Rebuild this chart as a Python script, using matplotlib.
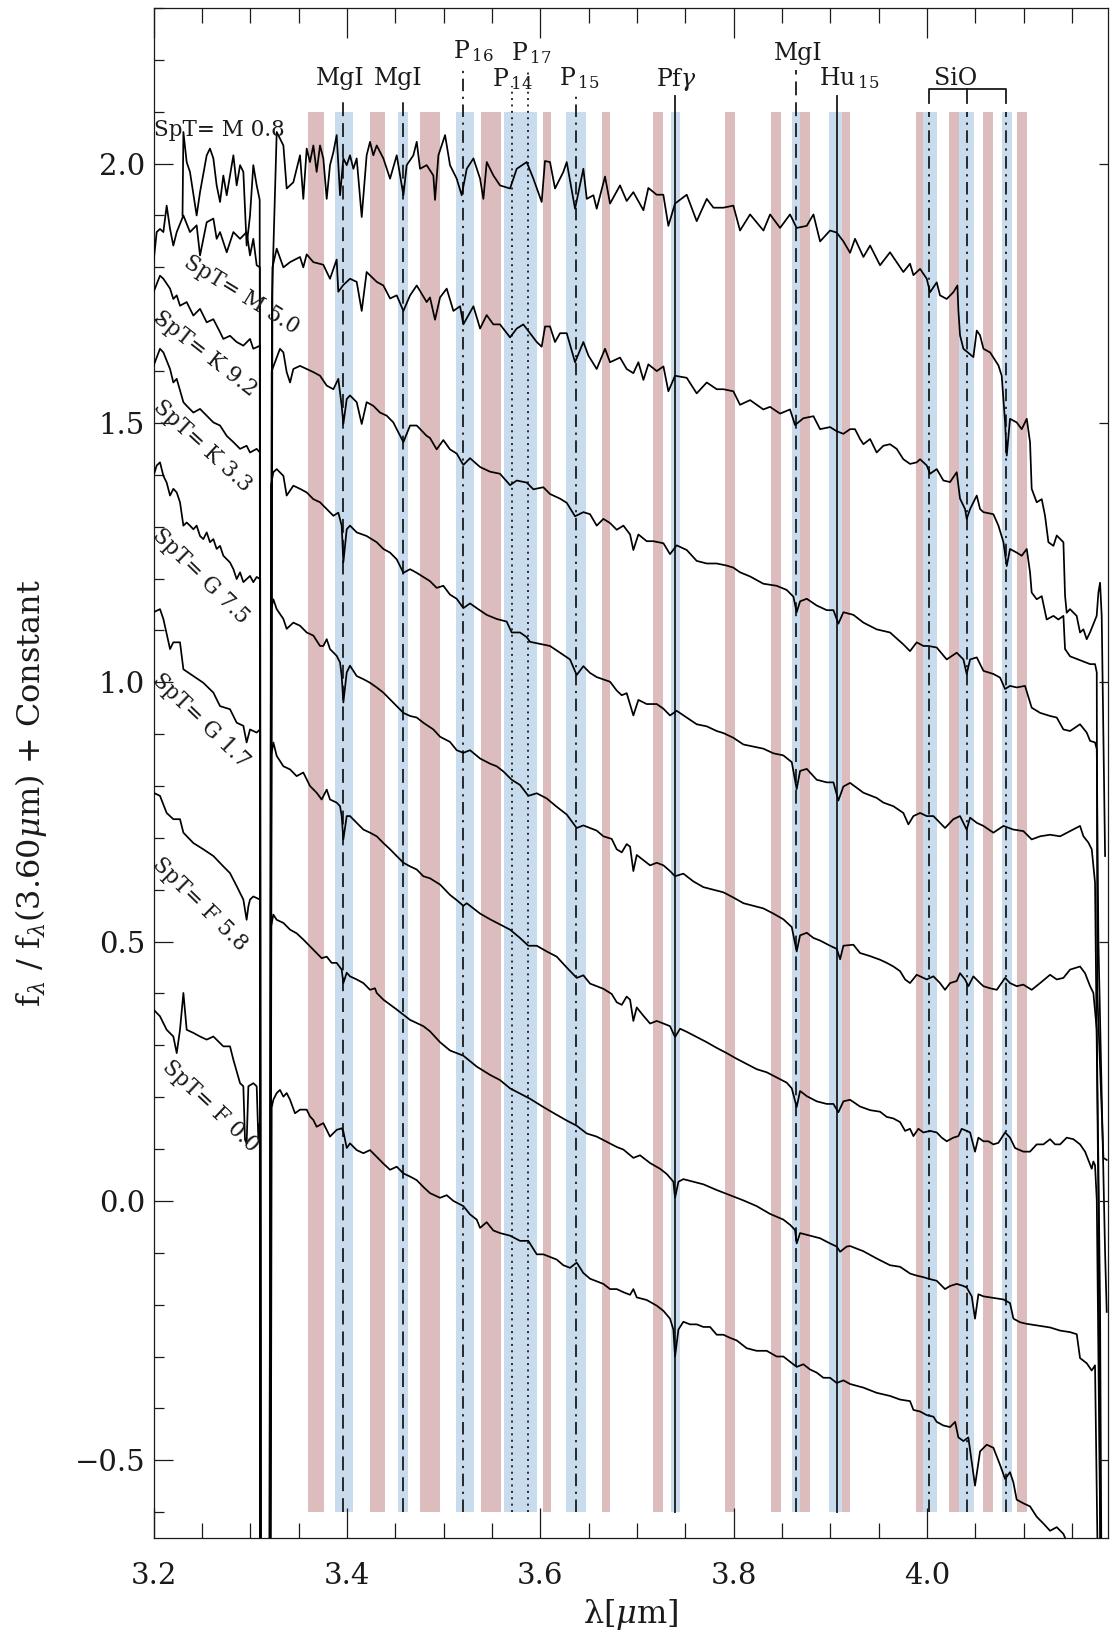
import numpy as np
import matplotlib
matplotlib.use("Agg")
from matplotlib import pyplot as plt
from matplotlib.ticker import MultipleLocator, FuncFormatter, NullLocator

plt.rcParams['font.family'] = ['DejaVu Serif']
plt.rcParams['mathtext.fontset'] = 'dejavuserif'
plt.rcParams['lines.scale_dashes'] = False

# ---- spectra, (wavelength [um], flux + constant) ----
spec_m08 = [(3.2300, 1.90), (3.2309, 2.061), (3.2343, 2.003), (3.2377, 1.984), (3.2446, 1.900), (3.2481, 1.945),
    (3.2550, 2.016), (3.2584, 2.029), (3.2619, 2.010), (3.2653, 1.958), (3.2688, 1.926), (3.2722, 1.977),
    (3.2757, 1.939), (3.2826, 2.016), (3.2860, 1.958), (3.2895, 1.997), (3.2929, 1.984), (3.2963, 1.842),
    (3.2998, 1.900), (3.3032, 1.997), (3.3067, 1.958), (3.3098, 1.93), (3.3110, -3.0), (3.3188, -3.0),
    (3.3225, 1.74), (3.3274, 2.061), (3.3343, 2.035), (3.3377, 1.952), (3.3446, 1.964), (3.3515, 2.016),
    (3.3549, 1.932), (3.3584, 2.029), (3.3618, 2.003), (3.3653, 2.035), (3.3687, 1.984), (3.3722, 2.035),
    (3.3756, 2.010), (3.3791, 1.932), (3.3825, 1.997), (3.3860, 2.022), (3.3894, 2.055), (3.3929, 1.939),
    (3.3963, 2.010), (3.3998, 1.997), (3.4032, 2.016), (3.4067, 1.990), (3.4101, 2.010), (3.4153, 1.897),
    (3.4204, 2.016), (3.4239, 2.042), (3.4273, 2.016), (3.4308, 2.035), (3.4377, 2.010), (3.4446, 1.971),
    (3.4515, 2.016), (3.4584, 1.939), (3.4618, 1.997), (3.4687, 2.016), (3.4722, 2.042), (3.4756, 1.990),
    (3.4825, 1.997), (3.4894, 1.977), (3.4911, 1.930), (3.4946, 2.016), (3.5015, 2.055), (3.5066, 1.997),
    (3.5135, 1.971), (3.5187, 1.939), (3.5239, 1.990), (3.5308, 2.010), (3.5377, 1.971), (3.5411, 1.932),
    (3.5446, 2.003), (3.5515, 1.977), (3.5583, 1.958), (3.5687, 1.952), (3.5756, 1.990), (3.5859, 2.003),
    (3.5928, 1.971), (3.6014, 1.926), (3.6048, 2.005), (3.6100, 2.003), (3.6152, 1.952), (3.6238, 1.984),
    (3.6273, 2.003), (3.6359, 1.913), (3.6445, 1.990), (3.6480, 1.932), (3.6549, 1.939), (3.6583, 1.913),
    (3.6669, 1.975), (3.6721, 1.923), (3.6824, 1.958), (3.6893, 1.928), (3.6962, 1.945), (3.7066, 1.910),
    (3.7117, 1.953), (3.7203, 1.940), (3.7272, 1.940), (3.7324, 1.880), (3.7393, 1.923), (3.7514, 1.940),
    (3.7617, 1.889), (3.7721, 1.932), (3.7790, 1.915), (3.7893, 1.915), (3.7996, 1.919), (3.8065, 1.871),
    (3.8169, 1.902), (3.8307, 1.871), (3.8376, 1.902), (3.8479, 1.876), (3.8582, 1.902), (3.8651, 1.876),
    (3.8755, 1.880), (3.8824, 1.902), (3.8893, 1.850), (3.8996, 1.871), (3.9065, 1.867), (3.9134, 1.850),
    (3.9203, 1.828), (3.9254, 1.855), (3.9341, 1.820), (3.9410, 1.842), (3.9513, 1.804), (3.9616, 1.829),
    (3.9754, 1.791), (3.9823, 1.807), (3.9858, 1.785), (3.9927, 1.797), (3.9996, 1.778), (4.0030, 1.752),
    (4.0099, 1.771), (4.0133, 1.746), (4.0202, 1.739), (4.0271, 1.752), (4.0313, 1.765), (4.0323, 1.717),
    (4.0340, 1.669), (4.0375, 1.643), (4.0478, 1.627), (4.0513, 1.678), (4.0547, 1.669), (4.0582, 1.643),
    (4.0651, 1.636), (4.0737, 1.611), (4.0771, 1.591), (4.0806, 1.501), (4.0823, 1.437), (4.0857, 1.508),
    (4.0926, 1.501), (4.0978, 1.488), (4.1030, 1.508), (4.1064, 1.463), (4.1081, 1.373), (4.1133, 1.347),
    (4.1185, 1.353), (4.1219, 1.321), (4.1254, 1.270), (4.1306, 1.263), (4.1340, 1.283), (4.1409, 1.270),
    (4.1426, 1.167), (4.1443, 1.134), (4.1477, 1.141), (4.1546, 1.128), (4.1581, 1.096), (4.1616, 1.102),
    (4.1650, 1.083), (4.1684, 1.096), (4.1753, 1.128), (4.1771, 1.173), (4.1788, 1.192), (4.1805, 1.128),
    (4.1840, 0.665)]

spec_m50 = [(3.2000, 1.810), (3.2033, 1.868), (3.2067, 1.874), (3.2102, 1.868), (3.2136, 1.919), (3.2171, 1.874),
    (3.2205, 1.842), (3.2240, 1.868), (3.2309, 1.900), (3.2377, 1.868), (3.2446, 1.881), (3.2481, 1.823),
    (3.2550, 1.887), (3.2619, 1.894), (3.2653, 1.855), (3.2688, 1.868), (3.2757, 1.829), (3.2826, 1.868),
    (3.2895, 1.855), (3.2963, 1.868), (3.2998, 1.823), (3.3032, 1.855), (3.3067, 1.804), (3.3100, 1.80),
    (3.3112, -3.0), (3.3186, -3.0), (3.3230, 1.80), (3.3274, 1.836), (3.3343, 1.80), (3.3412, 1.81),
    (3.3515, 1.82), (3.3549, 1.80), (3.3584, 1.825), (3.3653, 1.81), (3.3756, 1.805), (3.3825, 1.778),
    (3.3894, 1.815), (3.3911, 1.753), (3.3963, 1.766), (3.4032, 1.778), (3.4101, 1.772), (3.4153, 1.716),
    (3.4204, 1.791), (3.4308, 1.772), (3.4377, 1.765), (3.4446, 1.740), (3.4515, 1.746), (3.4584, 1.716),
    (3.4653, 1.746), (3.4722, 1.765), (3.4825, 1.733), (3.4859, 1.742), (3.4911, 1.699), (3.4963, 1.742),
    (3.5032, 1.759), (3.5101, 1.716), (3.5170, 1.725), (3.5204, 1.690), (3.5308, 1.725), (3.5377, 1.682),
    (3.5445, 1.708), (3.5514, 1.690), (3.5583, 1.690), (3.5687, 1.665), (3.5756, 1.682), (3.5824, 1.690),
    (3.5893, 1.673), (3.5963, 1.656), (3.6014, 1.647), (3.6049, 1.686), (3.6100, 1.686), (3.6152, 1.656),
    (3.6204, 1.673), (3.6273, 1.673), (3.6359, 1.617), (3.6445, 1.656), (3.6497, 1.630), (3.6583, 1.604),
    (3.6669, 1.643), (3.6721, 1.617), (3.6824, 1.626), (3.6893, 1.604), (3.6962, 1.596), (3.7014, 1.617),
    (3.7066, 1.583), (3.7117, 1.613), (3.7204, 1.600), (3.7273, 1.609), (3.7324, 1.561), (3.7393, 1.591),
    (3.7514, 1.587), (3.7617, 1.557), (3.7721, 1.578), (3.7824, 1.565), (3.7893, 1.565), (3.7996, 1.561),
    (3.8065, 1.535), (3.8169, 1.544), (3.8306, 1.526), (3.8375, 1.531), (3.8479, 1.518), (3.8582, 1.526),
    (3.8634, 1.496), (3.8720, 1.509), (3.8824, 1.513), (3.8893, 1.488), (3.8996, 1.492), (3.9065, 1.484),
    (3.9134, 1.479), (3.9203, 1.488), (3.9254, 1.488), (3.9306, 1.469), (3.9341, 1.459), (3.9410, 1.469),
    (3.9478, 1.443), (3.9547, 1.456), (3.9616, 1.459), (3.9685, 1.450), (3.9754, 1.430), (3.9823, 1.421),
    (3.9892, 1.424), (3.9927, 1.430), (3.9996, 1.418), (4.0030, 1.402), (4.0099, 1.411), (4.0168, 1.389),
    (4.0237, 1.386), (4.0306, 1.405), (4.0323, 1.379), (4.0340, 1.354), (4.0392, 1.334), (4.0409, 1.315),
    (4.0444, 1.334), (4.0513, 1.360), (4.0547, 1.334), (4.0582, 1.328), (4.0685, 1.324), (4.0737, 1.302),
    (4.0789, 1.270), (4.0823, 1.224), (4.0857, 1.257), (4.0926, 1.250), (4.0978, 1.244), (4.1030, 1.257),
    (4.1064, 1.212), (4.1081, 1.173), (4.1133, 1.160), (4.1185, 1.166), (4.1236, 1.121), (4.1306, 1.128),
    (4.1357, 1.121), (4.1409, 1.128), (4.1426, 1.064), (4.1478, 1.050), (4.1547, 1.045), (4.1616, 1.040),
    (4.1685, 1.035), (4.1736, 1.035), (4.1754, 1.019), (4.1760, 0.40), (4.1823, 0.083), (4.1857, 0.079)]

spec_k92 = [(3.2000, 1.752), (3.2067, 1.784), (3.2102, 1.778), (3.2171, 1.759), (3.2205, 1.739), (3.2240, 1.746),
    (3.2274, 1.726), (3.2343, 1.733), (3.2412, 1.707), (3.2481, 1.720), (3.2550, 1.694), (3.2619, 1.700),
    (3.2688, 1.675), (3.2722, 1.662), (3.2791, 1.668), (3.2860, 1.656), (3.2929, 1.649), (3.2998, 1.662),
    (3.3032, 1.643), (3.3102, 1.649), (3.3114, -3.0), (3.3187, -3.0), (3.3222, 1.60), (3.3256, 1.617),
    (3.3308, 1.643), (3.3343, 1.636), (3.3377, 1.598), (3.3412, 1.578), (3.3446, 1.604), (3.3515, 1.610),
    (3.3584, 1.604), (3.3653, 1.598), (3.3722, 1.591), (3.3791, 1.572), (3.3860, 1.565), (3.3911, 1.585),
    (3.3946, 1.533), (3.3963, 1.498), (3.3998, 1.546), (3.4032, 1.553), (3.4101, 1.540), (3.4153, 1.498),
    (3.4204, 1.540), (3.4273, 1.533), (3.4342, 1.520), (3.4411, 1.514), (3.4480, 1.501), (3.4515, 1.488),
    (3.4584, 1.463), (3.4653, 1.495), (3.4722, 1.495), (3.4825, 1.475), (3.4859, 1.471), (3.4928, 1.449),
    (3.4997, 1.467), (3.5066, 1.449), (3.5135, 1.441), (3.5204, 1.419), (3.5273, 1.432), (3.5377, 1.415),
    (3.5480, 1.406), (3.5583, 1.402), (3.5687, 1.380), (3.5756, 1.389), (3.5859, 1.385), (3.5928, 1.372),
    (3.6031, 1.376), (3.6100, 1.363), (3.6204, 1.354), (3.6273, 1.346), (3.6359, 1.320), (3.6445, 1.328),
    (3.6514, 1.324), (3.6583, 1.302), (3.6652, 1.315), (3.6721, 1.307), (3.6790, 1.294), (3.6859, 1.302),
    (3.6928, 1.285), (3.6962, 1.255), (3.7014, 1.285), (3.7100, 1.272), (3.7169, 1.272), (3.7273, 1.268),
    (3.7341, 1.247), (3.7410, 1.264), (3.7514, 1.255), (3.7617, 1.234), (3.7721, 1.229), (3.7824, 1.229),
    (3.7927, 1.225), (3.7996, 1.221), (3.8065, 1.212), (3.8169, 1.204), (3.8306, 1.190), (3.8444, 1.186),
    (3.8548, 1.178), (3.8617, 1.165), (3.8651, 1.135), (3.8686, 1.156), (3.8755, 1.161), (3.8858, 1.148),
    (3.8962, 1.139), (3.9031, 1.139), (3.9082, 1.113), (3.9134, 1.135), (3.9237, 1.130), (3.9341, 1.115),
    (3.9478, 1.102), (3.9616, 1.096), (3.9754, 1.073), (3.9823, 1.060), (3.9892, 1.077), (3.9961, 1.070),
    (4.0013, 1.070), (4.0099, 1.067), (4.0202, 1.044), (4.0306, 1.057), (4.0375, 1.044), (4.0409, 1.016),
    (4.0444, 1.044), (4.0513, 1.048), (4.0582, 1.022), (4.0685, 1.016), (4.0754, 1.009), (4.0806, 0.987),
    (4.0857, 0.993), (4.0926, 0.990), (4.1012, 0.993), (4.1081, 0.951), (4.1168, 0.941), (4.1271, 0.935),
    (4.1340, 0.932), (4.1409, 0.909), (4.1478, 0.906), (4.1581, 0.919), (4.1650, 0.903), (4.1685, 0.887),
    (4.1736, 0.884), (4.1754, 0.871), (4.1771, 0.50), (4.1840, -0.10), (4.1857, -0.214)]

spec_k33 = [(3.2000, 1.610), (3.2067, 1.643), (3.2102, 1.636), (3.2171, 1.604), (3.2205, 1.578), (3.2240, 1.585),
    (3.2309, 1.540), (3.2343, 1.533), (3.2412, 1.520), (3.2481, 1.527), (3.2550, 1.514), (3.2619, 1.501),
    (3.2688, 1.495), (3.2757, 1.475), (3.2826, 1.463), (3.2895, 1.450), (3.2963, 1.456), (3.2998, 1.443),
    (3.3067, 1.450), (3.3101, 1.443), (3.3111, -3.0), (3.3183, -3.0), (3.3215, 1.38), (3.3239, 1.405),
    (3.3274, 1.411), (3.3343, 1.398), (3.3377, 1.360), (3.3446, 1.379), (3.3515, 1.373), (3.3584, 1.366),
    (3.3653, 1.353), (3.3722, 1.347), (3.3791, 1.334), (3.3860, 1.321), (3.3911, 1.327), (3.3946, 1.302),
    (3.3963, 1.231), (3.3998, 1.295), (3.4032, 1.302), (3.4101, 1.289), (3.4204, 1.282), (3.4308, 1.270),
    (3.4377, 1.257), (3.4446, 1.250), (3.4515, 1.237), (3.4584, 1.211), (3.4653, 1.218), (3.4722, 1.211),
    (3.4825, 1.199), (3.4859, 1.195), (3.4928, 1.182), (3.4997, 1.186), (3.5066, 1.169), (3.5135, 1.161),
    (3.5204, 1.143), (3.5273, 1.152), (3.5342, 1.143), (3.5445, 1.130), (3.5549, 1.122), (3.5652, 1.117),
    (3.5704, 1.096), (3.5790, 1.096), (3.5859, 1.087), (3.5893, 1.078), (3.5997, 1.074), (3.6100, 1.070),
    (3.6204, 1.057), (3.6307, 1.044), (3.6376, 1.014), (3.6445, 1.031), (3.6514, 1.018), (3.6583, 1.010),
    (3.6721, 1.001), (3.6790, 0.984), (3.6842, 0.975), (3.6893, 0.979), (3.6962, 0.936), (3.7014, 0.966),
    (3.7100, 0.958), (3.7204, 0.958), (3.7273, 0.949), (3.7341, 0.936), (3.7410, 0.945), (3.7514, 0.932),
    (3.7617, 0.919), (3.7721, 0.915), (3.7824, 0.906), (3.7893, 0.902), (3.7996, 0.893), (3.8100, 0.880),
    (3.8203, 0.876), (3.8306, 0.872), (3.8410, 0.863), (3.8513, 0.859), (3.8600, 0.846), (3.8651, 0.794),
    (3.8686, 0.829), (3.8755, 0.833), (3.8858, 0.812), (3.8962, 0.807), (3.9031, 0.807), (3.9082, 0.772),
    (3.9134, 0.799), (3.9203, 0.806), (3.9341, 0.787), (3.9478, 0.777), (3.9547, 0.768), (3.9651, 0.761),
    (3.9754, 0.748), (3.9806, 0.726), (3.9858, 0.742), (3.9927, 0.748), (3.9996, 0.742), (4.0065, 0.742),
    (4.0133, 0.729), (4.0185, 0.719), (4.0271, 0.736), (4.0340, 0.742), (4.0409, 0.716), (4.0444, 0.739),
    (4.0513, 0.729), (4.0582, 0.723), (4.0685, 0.710), (4.0789, 0.723), (4.0892, 0.716), (4.0995, 0.713),
    (4.1081, 0.697), (4.1168, 0.703), (4.1271, 0.706), (4.1375, 0.703), (4.1478, 0.713), (4.1581, 0.723),
    (4.1616, 0.703), (4.1667, 0.691), (4.1702, 0.678), (4.1736, 0.614), (4.1771, 0.0), (4.1800, -1.0)]

spec_g75 = [(3.2000, 1.398), (3.2033, 1.418), (3.2067, 1.424), (3.2102, 1.398), (3.2136, 1.385), (3.2171, 1.360),
    (3.2205, 1.373), (3.2240, 1.366), (3.2274, 1.347), (3.2309, 1.302), (3.2343, 1.308), (3.2377, 1.302),
    (3.2412, 1.295), (3.2446, 1.302), (3.2481, 1.282), (3.2515, 1.276), (3.2550, 1.289), (3.2584, 1.270),
    (3.2619, 1.276), (3.2653, 1.257), (3.2688, 1.263), (3.2722, 1.244), (3.2791, 1.231), (3.2826, 1.218),
    (3.2860, 1.199), (3.2895, 1.212), (3.2929, 1.193), (3.2963, 1.199), (3.2998, 1.205), (3.3032, 1.193),
    (3.3067, 1.203), (3.3103, 1.199), (3.3115, -3.0), (3.3181, -3.0), (3.3215, 1.14), (3.3239, 1.160),
    (3.3274, 1.141), (3.3343, 1.122), (3.3377, 1.103), (3.3446, 1.115), (3.3515, 1.109), (3.3584, 1.096),
    (3.3653, 1.090), (3.3722, 1.070), (3.3756, 1.070), (3.3791, 1.083), (3.3825, 1.064), (3.3894, 1.051),
    (3.3929, 1.038), (3.3946, 1.012), (3.3963, 0.961), (3.3998, 1.019), (3.4032, 1.032), (3.4101, 1.012),
    (3.4170, 1.006), (3.4239, 0.999), (3.4308, 0.990), (3.4377, 0.980), (3.4446, 0.967), (3.4515, 0.954),
    (3.4584, 0.941), (3.4653, 0.935), (3.4722, 0.932), (3.4790, 0.922), (3.4894, 0.909), (3.4963, 0.895),
    (3.5066, 0.885), (3.5135, 0.869), (3.5204, 0.864), (3.5273, 0.869), (3.5377, 0.853), (3.5480, 0.843),
    (3.5549, 0.838), (3.5618, 0.828), (3.5704, 0.812), (3.5790, 0.802), (3.5876, 0.781), (3.5963, 0.786),
    (3.6066, 0.776), (3.6169, 0.760), (3.6273, 0.745), (3.6376, 0.719), (3.6445, 0.724), (3.6514, 0.719),
    (3.6583, 0.714), (3.6652, 0.703), (3.6738, 0.698), (3.6790, 0.678), (3.6842, 0.672), (3.6893, 0.688),
    (3.6928, 0.683), (3.6962, 0.636), (3.6997, 0.667), (3.7066, 0.657), (3.7135, 0.647), (3.7204, 0.652),
    (3.7273, 0.647), (3.7341, 0.636), (3.7393, 0.626), (3.7479, 0.631), (3.7583, 0.616), (3.7686, 0.605),
    (3.7790, 0.600), (3.7893, 0.595), (3.7996, 0.585), (3.8100, 0.574), (3.8203, 0.569), (3.8306, 0.564),
    (3.8410, 0.554), (3.8513, 0.543), (3.8600, 0.528), (3.8651, 0.481), (3.8686, 0.512), (3.8755, 0.517),
    (3.8824, 0.507), (3.8893, 0.502), (3.8996, 0.492), (3.9065, 0.486), (3.9100, 0.466), (3.9134, 0.492),
    (3.9237, 0.494), (3.9306, 0.478), (3.9410, 0.472), (3.9513, 0.465), (3.9582, 0.459), (3.9651, 0.452),
    (3.9720, 0.443), (3.9772, 0.427), (3.9823, 0.420), (3.9892, 0.436), (3.9996, 0.427), (4.0065, 0.433),
    (4.0133, 0.420), (4.0185, 0.407), (4.0237, 0.420), (4.0306, 0.424), (4.0340, 0.439), (4.0392, 0.427),
    (4.0426, 0.414), (4.0478, 0.433), (4.0547, 0.420), (4.0582, 0.414), (4.0651, 0.410), (4.0720, 0.407),
    (4.0806, 0.430), (4.0857, 0.420), (4.0926, 0.414), (4.0995, 0.417), (4.1081, 0.407), (4.1168, 0.420),
    (4.1271, 0.436), (4.1340, 0.427), (4.1409, 0.430), (4.1478, 0.446), (4.1581, 0.452), (4.1633, 0.439),
    (4.1685, 0.414), (4.1719, 0.401), (4.1754, 0.330), (4.1788, -0.2), (4.1810, -1.0)]

spec_g17 = [(3.2000, 1.135), (3.2067, 1.141), (3.2102, 1.122), (3.2171, 1.064), (3.2205, 1.077), (3.2274, 1.077),
    (3.2309, 1.025), (3.2412, 1.012), (3.2515, 0.999), (3.2619, 0.980), (3.2688, 0.954), (3.2791, 0.948),
    (3.2860, 0.922), (3.2929, 0.916), (3.2963, 0.884), (3.2998, 0.909), (3.3067, 0.903), (3.3101, 0.909),
    (3.3112, -3.0), (3.3184, -3.0), (3.3218, 0.86), (3.3239, 0.884), (3.3274, 0.858), (3.3343, 0.838),
    (3.3412, 0.832), (3.3480, 0.819), (3.3549, 0.826), (3.3618, 0.800), (3.3687, 0.787), (3.3739, 0.774),
    (3.3791, 0.793), (3.3825, 0.774), (3.3894, 0.768), (3.3929, 0.761), (3.3946, 0.742), (3.3963, 0.697),
    (3.3998, 0.742), (3.4032, 0.742), (3.4101, 0.729), (3.4170, 0.716), (3.4239, 0.710), (3.4308, 0.703),
    (3.4377, 0.690), (3.4446, 0.678), (3.4515, 0.665), (3.4584, 0.652), (3.4653, 0.645), (3.4722, 0.639),
    (3.4790, 0.626), (3.4859, 0.622), (3.4963, 0.610), (3.5066, 0.590), (3.5135, 0.580), (3.5204, 0.569),
    (3.5239, 0.574), (3.5308, 0.564), (3.5377, 0.554), (3.5480, 0.543), (3.5583, 0.533), (3.5687, 0.523),
    (3.5790, 0.507), (3.5876, 0.492), (3.5963, 0.492), (3.6066, 0.481), (3.6169, 0.471), (3.6273, 0.450),
    (3.6376, 0.430), (3.6445, 0.435), (3.6514, 0.419), (3.6583, 0.414), (3.6652, 0.409), (3.6738, 0.399),
    (3.6790, 0.383), (3.6842, 0.378), (3.6893, 0.394), (3.6928, 0.388), (3.6962, 0.347), (3.6997, 0.373),
    (3.7066, 0.357), (3.7135, 0.342), (3.7204, 0.347), (3.7273, 0.342), (3.7341, 0.337), (3.7393, 0.316),
    (3.7445, 0.332), (3.7514, 0.326), (3.7617, 0.316), (3.7721, 0.306), (3.7824, 0.295), (3.7927, 0.285),
    (3.8031, 0.274), (3.8134, 0.264), (3.8237, 0.254), (3.8341, 0.248), (3.8444, 0.238), (3.8548, 0.228),
    (3.8600, 0.217), (3.8651, 0.181), (3.8686, 0.212), (3.8755, 0.202), (3.8858, 0.192), (3.8962, 0.187),
    (3.9031, 0.187), (3.9082, 0.171), (3.9134, 0.192), (3.9203, 0.195), (3.9306, 0.182), (3.9410, 0.175),
    (3.9513, 0.172), (3.9582, 0.162), (3.9651, 0.159), (3.9720, 0.152), (3.9772, 0.135), (3.9823, 0.139),
    (3.9858, 0.125), (3.9909, 0.139), (3.9961, 0.132), (4.0030, 0.135), (4.0099, 0.132), (4.0151, 0.122),
    (4.0202, 0.115), (4.0271, 0.122), (4.0323, 0.125), (4.0357, 0.139), (4.0409, 0.135), (4.0444, 0.132),
    (4.0495, 0.095), (4.0530, 0.122), (4.0582, 0.115), (4.0633, 0.115), (4.0685, 0.109), (4.0737, 0.112),
    (4.0806, 0.132), (4.0857, 0.122), (4.0909, 0.102), (4.0995, 0.095), (4.1064, 0.095), (4.1133, 0.109),
    (4.1202, 0.109), (4.1271, 0.119), (4.1323, 0.109), (4.1375, 0.109), (4.1443, 0.122), (4.1512, 0.119),
    (4.1581, 0.109), (4.1633, 0.095), (4.1667, 0.079), (4.1702, 0.062), (4.1719, 0.076), (4.1736, 0.069),
    (4.1754, 0.002), (4.1788, -0.6), (4.1810, -1.0)]

spec_f58 = [(3.2000, 0.787), (3.2067, 0.781), (3.2136, 0.748), (3.2205, 0.736), (3.2274, 0.736), (3.2309, 0.710),
    (3.2412, 0.690), (3.2515, 0.678), (3.2619, 0.665), (3.2722, 0.645), (3.2791, 0.632), (3.2860, 0.607),
    (3.2929, 0.581), (3.2963, 0.542), (3.2981, 0.568), (3.2998, 0.581), (3.3032, 0.587), (3.3101, 0.581),
    (3.3113, -3.0), (3.3185, -3.0), (3.3217, 0.53), (3.3239, 0.552), (3.3274, 0.542), (3.3343, 0.536),
    (3.3412, 0.523), (3.3480, 0.516), (3.3549, 0.504), (3.3618, 0.491), (3.3687, 0.478), (3.3739, 0.468),
    (3.3791, 0.471), (3.3842, 0.459), (3.3894, 0.459), (3.3946, 0.446), (3.3963, 0.420), (3.3998, 0.440),
    (3.4032, 0.433), (3.4101, 0.427), (3.4170, 0.420), (3.4239, 0.407), (3.4290, 0.410), (3.4308, 0.401),
    (3.4377, 0.388), (3.4515, 0.369), (3.4653, 0.349), (3.4790, 0.337), (3.4859, 0.327), (3.4963, 0.306),
    (3.5066, 0.290), (3.5204, 0.280), (3.5342, 0.259), (3.5480, 0.243), (3.5583, 0.233), (3.5687, 0.217),
    (3.5790, 0.207), (3.5893, 0.197), (3.6031, 0.181), (3.6169, 0.166), (3.6273, 0.155), (3.6376, 0.145),
    (3.6480, 0.130), (3.6583, 0.124), (3.6686, 0.114), (3.6790, 0.104), (3.6859, 0.099), (3.6962, 0.083),
    (3.7031, 0.088), (3.7135, 0.073), (3.7238, 0.062), (3.7307, 0.052), (3.7376, 0.037), (3.7393, 0.006),
    (3.7428, 0.037), (3.7479, 0.042), (3.7583, 0.037), (3.7686, 0.032), (3.7824, 0.021), (3.7962, 0.011),
    (3.8100, 0.001), (3.8237, -0.010), (3.8375, -0.025), (3.8513, -0.036), (3.8582, -0.046), (3.8634, -0.056),
    (3.8651, -0.082), (3.8686, -0.062), (3.8789, -0.067), (3.8893, -0.072), (3.8996, -0.082), (3.9065, -0.088),
    (3.9100, -0.098), (3.9168, -0.088), (3.9203, -0.087), (3.9341, -0.097), (3.9478, -0.111), (3.9616, -0.124),
    (3.9720, -0.127), (3.9823, -0.140), (3.9892, -0.144), (3.9961, -0.147), (4.0013, -0.150), (4.0099, -0.154),
    (4.0185, -0.170), (4.0237, -0.164), (4.0306, -0.160), (4.0375, -0.164), (4.0409, -0.167), (4.0461, -0.184),
    (4.0495, -0.227), (4.0530, -0.180), (4.0582, -0.184), (4.0685, -0.187), (4.0789, -0.190), (4.0857, -0.197),
    (4.0892, -0.227), (4.0961, -0.234), (4.1030, -0.237), (4.1133, -0.240), (4.1271, -0.244), (4.1375, -0.250),
    (4.1478, -0.253), (4.1547, -0.257), (4.1581, -0.303), (4.1650, -0.313), (4.1702, -0.327), (4.1736, -0.317),
    (4.1771, -0.8), (4.1800, -1.0)]

spec_f00 = [(3.2000, 0.369), (3.2067, 0.356), (3.2136, 0.330), (3.2205, 0.317), (3.2240, 0.285), (3.2274, 0.330),
    (3.2309, 0.401), (3.2343, 0.330), (3.2412, 0.324), (3.2481, 0.317), (3.2550, 0.311), (3.2619, 0.317),
    (3.2722, 0.298), (3.2791, 0.298), (3.2826, 0.272), (3.2895, 0.227), (3.2929, 0.221), (3.2946, 0.118),
    (3.2963, 0.111), (3.2981, 0.221), (3.3032, 0.227), (3.3067, 0.221), (3.3084, 0.118), (3.3099, 0.15),
    (3.3114, -3.0), (3.3188, -3.0), (3.3222, 0.18), (3.3239, 0.195), (3.3274, 0.208), (3.3308, 0.214),
    (3.3343, 0.201), (3.3377, 0.208), (3.3412, 0.195), (3.3463, 0.169), (3.3515, 0.176), (3.3584, 0.176),
    (3.3618, 0.163), (3.3653, 0.156), (3.3687, 0.143), (3.3756, 0.150), (3.3825, 0.124), (3.3894, 0.137),
    (3.3946, 0.140), (3.3963, 0.134), (3.3998, 0.102), (3.4032, 0.111), (3.4101, 0.098), (3.4170, 0.092),
    (3.4239, 0.098), (3.4308, 0.085), (3.4377, 0.072), (3.4446, 0.060), (3.4515, 0.066), (3.4584, 0.053),
    (3.4653, 0.047), (3.4722, 0.040), (3.4790, 0.027), (3.4859, 0.015), (3.4963, 0.006), (3.5032, 0.011),
    (3.5101, 0.000), (3.5204, -0.010), (3.5273, -0.026), (3.5342, -0.036), (3.5377, -0.052), (3.5445, -0.041),
    (3.5514, -0.057), (3.5583, -0.062), (3.5687, -0.067), (3.5790, -0.077), (3.5876, -0.077), (3.5963, -0.103),
    (3.6031, -0.103), (3.6100, -0.108), (3.6169, -0.113), (3.6238, -0.124), (3.6307, -0.129), (3.6376, -0.119),
    (3.6445, -0.139), (3.6514, -0.150), (3.6583, -0.155), (3.6652, -0.160), (3.6721, -0.170), (3.6790, -0.170),
    (3.6859, -0.176), (3.6928, -0.181), (3.6962, -0.170), (3.6997, -0.186), (3.7100, -0.191), (3.7204, -0.202),
    (3.7273, -0.212), (3.7341, -0.227), (3.7376, -0.248), (3.7393, -0.300), (3.7428, -0.248), (3.7479, -0.233),
    (3.7548, -0.238), (3.7617, -0.238), (3.7686, -0.243), (3.7755, -0.243), (3.7824, -0.258), (3.7893, -0.258),
    (3.7962, -0.264), (3.8031, -0.269), (3.8134, -0.284), (3.8237, -0.289), (3.8341, -0.289), (3.8444, -0.300),
    (3.8513, -0.300), (3.8582, -0.310), (3.8651, -0.320), (3.8720, -0.315), (3.8789, -0.325), (3.8858, -0.331),
    (3.8927, -0.341), (3.8996, -0.341), (3.9065, -0.351), (3.9134, -0.346), (3.9203, -0.353), (3.9341, -0.360),
    (3.9478, -0.370), (3.9616, -0.376), (3.9720, -0.383), (3.9823, -0.386), (3.9858, -0.403), (3.9927, -0.406),
    (3.9996, -0.413), (4.0065, -0.416), (4.0099, -0.426), (4.0168, -0.433), (4.0237, -0.436), (4.0289, -0.426),
    (4.0323, -0.456), (4.0375, -0.463), (4.0426, -0.456), (4.0495, -0.549), (4.0547, -0.483), (4.0616, -0.470),
    (4.0685, -0.476), (4.0754, -0.509), (4.0806, -0.536), (4.0857, -0.523), (4.0892, -0.543), (4.0926, -0.576),
    (4.0995, -0.583), (4.1064, -0.589), (4.1133, -0.609), (4.1202, -0.622), (4.1271, -0.636), (4.1340, -0.629),
    (4.1409, -0.642), (4.1450, -0.66), (4.1500, -0.75), (4.1700, -0.80)]

spectra = [spec_m08, spec_m50, spec_k92, spec_k33, spec_g75, spec_g17, spec_f58, spec_f00]
sptypes = ["SpT= M 0.8", "SpT= M 5.0", "SpT= K 9.2", "SpT= K 3.3",
           "SpT= G 7.5", "SpT= G 1.7", "SpT= F 5.8", "SpT= F 0.0"]
sp_label_x = [3.2005, 3.2336, 3.2026, 3.2026, 3.2026, 3.2026, 3.2026, 3.2129]
sp_label_y = [2.064, 1.813, 1.708, 1.537, 1.290, 1.010, 0.656, 0.264]
sp_label_rot = [0, -31.6, -38, -42.5, -44.5, -44, -44.4, -43.3]

# shaded windows (um)
red_bands = [(3.3595, 3.3760), (3.4239, 3.4390), (3.4756, 3.4960), (3.5387, 3.5591), (3.6031, 3.6107),
             (3.6641, 3.6719), (3.7163, 3.7267), (3.7910, 3.8010), (3.8386, 3.8489), (3.8686, 3.8787),
             (3.9118, 3.9198), (3.9880, 3.9953), (4.0226, 4.0330), (4.0578, 4.0680), (4.0930, 4.1033)]
blue_bands = [(3.3877, 3.4060), (3.4528, 3.4629), (3.5128, 3.5311), (3.5625, 3.5963), (3.6266, 3.6469),
              (3.7352, 3.7445), (3.8600, 3.8686), (3.8986, 3.9118), (3.9953, 4.0100), (4.0330, 4.0480),
              (4.0775, 4.0878)]
band_lo, band_hi = -0.6, 2.1

# line identifications
line_x = [3.3963, 3.4583, 3.5204, 3.5702, 3.5870, 3.6366, 3.7388, 3.8644, 3.9064, 4.0020, 4.0413, 4.0816]
line_top = [2.131, 2.131, 2.183, 2.149, 2.180, 2.131, 2.131, 2.180, 2.131, 2.100, 2.100, 2.100]
line_kind = ['dash', 'dash', 'dashdot', 'dot', 'dot', 'dashdot', 'solid', 'dash', 'solid',
             'dashdot', 'dashdot', 'dashdot']
id_text = ['MgI', 'MgI', r'P$_{\,16}$', r'P$_{\,14}$', r'P$_{\,17}$', r'P$_{\,15}$', r'Pf$\gamma$',
           'MgI', r'Hu$_{\,15}$', 'SiO']
id_x = [3.3928, 3.4528, 3.5100, 3.5497, 3.5694, 3.6197, 3.7193, 3.8670, 3.8886, 4.0296]
id_y = [2.151, 2.151, 2.203, 2.149, 2.199, 2.151, 2.149, 2.199, 2.151, 2.151]
id_ha = ['center', 'center', 'left', 'left', 'left', 'left', 'left', 'center', 'left', 'center']
sio_x = [4.0020, 4.0413, 4.0816]
sio_bracket = (2.116, 2.143)

styles = {'dash': (0, (10, 5)), 'dashdot': (0, (9, 4, 1.6, 4)), 'dot': (0, (1.4, 3.2)), 'solid': '-'}
ink = '#1a1a1a'

fig = plt.figure(figsize=(11.14, 16.35), dpi=100)
ax = fig.add_axes([0.1378, 0.0593, 0.8568, 0.9358])
ax.set_xlim(3.2, 4.187)
ax.set_ylim(-0.65, 2.3)

for x0, x1 in red_bands:
    ax.fill_between([x0, x1], band_lo, band_hi, color='#ddbcbd', lw=0, zorder=1)
for x0, x1 in blue_bands:
    ax.fill_between([x0, x1], band_lo, band_hi, color='#c8dcee', lw=0, zorder=1)

for x, top, kind in zip(line_x, line_top, line_kind):
    ax.plot([x, x], [band_lo, top], color=ink, lw=1.3, ls=styles[kind], zorder=2)

# SiO bracket
ax.plot([sio_x[0], sio_x[0], sio_x[2], sio_x[2]],
        [sio_bracket[0], sio_bracket[1], sio_bracket[1], sio_bracket[0]], color=ink, lw=1.3, zorder=2)
ax.plot([sio_x[1], sio_x[1]], list(sio_bracket), color=ink, lw=1.3, zorder=2)

for t, x, y, ha in zip(id_text, id_x, id_y, id_ha):
    ax.text(x, y, t, ha=ha, va='baseline', fontsize=17, color=ink, zorder=4)

for spec in spectra:
    wl, fl = zip(*spec)
    ax.plot(wl, fl, color='black', lw=1.25, zorder=3)

for t, x, y, r in zip(sptypes, sp_label_x, sp_label_y, sp_label_rot):
    ax.text(x, y, t, rotation=r, rotation_mode='anchor', ha='left', va='center',
            fontsize=15.5, color=ink, zorder=4)

# axes / ticks
ax.xaxis.set_major_locator(MultipleLocator(0.2))
ax.xaxis.set_minor_locator(MultipleLocator(0.05))
ax.yaxis.set_major_locator(MultipleLocator(0.5))
ax.yaxis.set_minor_locator(MultipleLocator(0.1))
ax.xaxis.set_major_formatter(FuncFormatter(lambda v, p: f"{v:.1f}"))
ax.yaxis.set_major_formatter(FuncFormatter(lambda v, p: f"{v:.1f}".replace('-', '\u2212')))
ax.tick_params(axis='x', which='major', direction='in', length=21.5, width=0.9, top=True, bottom=True,
               pad=17, labelsize=21, colors=ink)
ax.tick_params(axis='x', which='minor', direction='in', length=10.8, width=0.9, top=True, bottom=True,
               colors=ink)
ax.tick_params(axis='y', which='major', direction='in', length=13.7, width=0.9, left=True, right=False,
               pad=6, labelsize=21, colors=ink)
ax.tick_params(axis='y', which='minor', direction='in', length=7.2, width=0.9, left=True, right=False,
               colors=ink)
for s in ax.spines.values():
    s.set_linewidth(0.9)
    s.set_color(ink)

twin = ax.twinx()
twin.set_ylim(ax.get_ylim())
twin.yaxis.set_major_locator(MultipleLocator(0.5))
twin.yaxis.set_minor_locator(NullLocator())
twin.tick_params(axis='y', which='major', direction='in', length=6.5, width=0.9, labelright=False,
                 colors=ink)
for s in twin.spines.values():
    s.set_visible(False)

fig.text(31 / 1114, 1 - 793 / 1635, r'f$_\lambda$ / f$_\lambda$(3.60$\mu$m) + Constant',
         rotation=90, ha='center', va='center', fontsize=23, color=ink)
fig.text(631 / 1114, 1 - 1614 / 1635, '\u03bb[$\\mu$m]', ha='center', va='center', fontsize=23, color=ink)

fig.savefig('out.png', dpi=100)
